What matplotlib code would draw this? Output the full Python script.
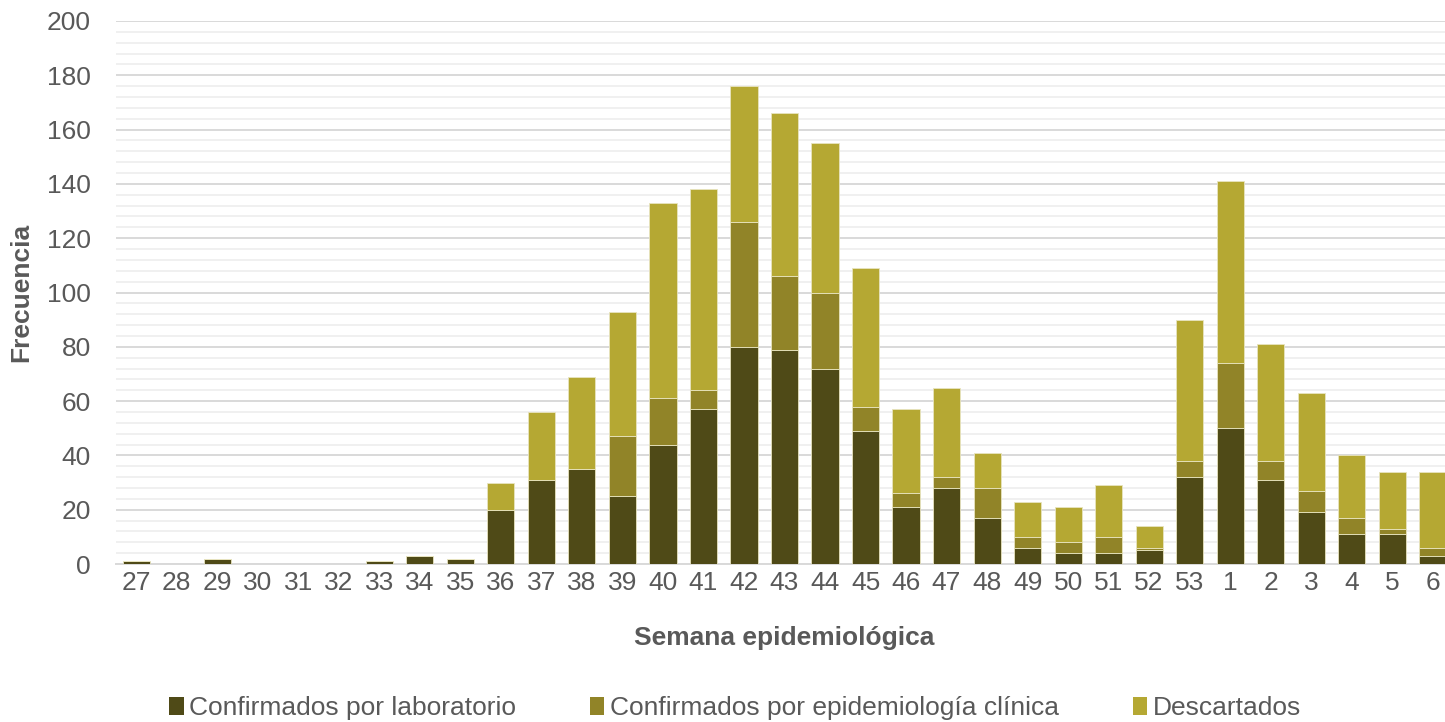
import matplotlib
matplotlib.use("Agg")
import matplotlib.pyplot as plt
import numpy as np
from matplotlib.ticker import MultipleLocator
from matplotlib.patches import Patch

weeks = ["27", "28", "29", "30", "31", "32", "33", "34", "35", "36", "37", "38", "39", "40",
         "41", "42", "43", "44", "45", "46", "47", "48", "49", "50", "51", "52", "53",
         "1", "2", "3", "4", "5", "6"]
lab = [1, 0, 2, 0, 0, 0, 1, 3, 2, 20, 31, 35, 25, 44,
       57, 80, 79, 72, 49, 21, 28, 17, 6, 4, 4, 5, 32,
       50, 31, 19, 11, 11, 3]
epi = [0, 0, 0, 0, 0, 0, 0, 0, 0, 0, 0, 0, 22, 17,
       7, 46, 27, 28, 9, 5, 4, 11, 4, 4, 6, 1, 6,
       24, 7, 8, 6, 2, 3]
desc = [0, 0, 0, 0, 0, 0, 0, 0, 0, 10, 25, 34, 46, 72,
        74, 50, 60, 55, 51, 31, 33, 13, 13, 13, 19, 8, 52,
        67, 43, 36, 23, 21, 28]

names = ["Confirmados por laboratorio", "Confirmados por epidemiología clínica", "Descartados"]
colors = ["#4f4a17", "#918428", "#b5a833"]

plt.rcParams['font.family'] = ['Liberation Sans', 'DejaVu Sans']

W, H = 1445, 722
fig = plt.figure(figsize=(W / 100, H / 100), dpi=100)
left, right, top, bottom = 116, 1453, 21, 564
ax = fig.add_axes([left / W, 1 - bottom / H, (right - left) / W, (bottom - top) / H])

x = np.arange(len(weeks))
lab_a = np.array(lab)
epi_a = np.array(epi)
desc_a = np.array(desc)
bw = 0.67
ax.bar(x, lab_a, width=bw, color=colors[0], edgecolor="#e8e4c0", linewidth=0.6, zorder=3)
ax.bar(x, epi_a, width=bw, bottom=lab_a, color=colors[1], edgecolor="#e8e4c0", linewidth=0.6, zorder=3)
ax.bar(x, desc_a, width=bw, bottom=lab_a + epi_a, color=colors[2], edgecolor="#e8e4c0", linewidth=0.6, zorder=3)

ax.set_ylim(0, 200)
ax.set_xlim(-0.5, len(weeks) - 0.5)
ax.yaxis.set_major_locator(MultipleLocator(20))
ax.yaxis.set_minor_locator(MultipleLocator(4))
ax.grid(axis='y', which='major', color='#d9d9d9', linewidth=1.4, zorder=0)
ax.grid(axis='y', which='minor', color='#f0f0f0', linewidth=1.4, zorder=0)
ax.set_xticks(x)
ax.set_xticklabels(weeks)
for s in ['top', 'right', 'left']:
    ax.spines[s].set_visible(False)
ax.spines['bottom'].set_color('#d9d9d9')
ax.spines['bottom'].set_linewidth(1.4)
ax.tick_params(axis='both', which='both', length=0, labelsize=19, colors='#595959')
ax.tick_params(axis='x', pad=5)
ax.tick_params(axis='y', pad=18)

ax.set_ylabel("Frecuencia", fontsize=19, fontweight='bold', color='#595959', labelpad=10)
ax.set_xlabel("Semana epidemiológica", fontsize=19, fontweight='bold', color='#595959', labelpad=22)

handles = [Patch(facecolor=c, edgecolor='none') for c in colors]
fig.legend(handles, names, loc='center', bbox_to_anchor=(735 / W, 1 - 708 / H), ncol=3,
           frameon=False, fontsize=19, handlelength=0.55, handleheight=0.65,
           handletextpad=0.2, columnspacing=2.8, labelcolor='#595959')

fig.savefig("out.png", dpi=100)
